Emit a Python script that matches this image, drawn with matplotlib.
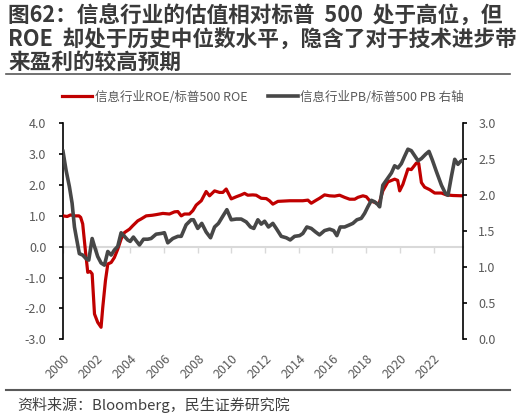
import matplotlib
matplotlib.use("Agg")
import matplotlib.pyplot as plt
from matplotlib.lines import Line2D

plt.rcParams['font.family'] = ['Noto Sans CJK SC', 'DejaVu Sans']
plt.rcParams['axes.unicode_minus'] = False

# ---- data (decimal years) ----
roe_dates = [2000.00, 2000.25, 2000.45, 2000.70, 2000.95, 2001.05, 2001.17, 2001.33, 2001.47, 2001.61,
             2001.73, 2001.87, 2002.06, 2002.26, 2002.36, 2002.52, 2002.66, 2002.86, 2003.05, 2003.25,
             2003.45, 2003.65, 2003.95, 2004.14, 2004.44, 2004.64, 2004.94, 2005.30, 2005.53, 2005.93,
             2006.32, 2006.62, 2006.82, 2007.02, 2007.21, 2007.51, 2007.71, 2007.91, 2008.21, 2008.50,
             2008.70, 2009.00, 2009.29, 2009.49, 2009.69, 2009.99, 2010.29, 2010.58, 2010.78, 2010.97,
             2011.27, 2011.47, 2011.77, 2012.07, 2012.26, 2012.46, 2012.76, 2013.46, 2014.24, 2014.54,
             2014.74, 2015.04, 2015.23, 2015.53, 2015.83, 2016.13, 2016.42, 2016.72, 2017.02, 2017.32,
             2017.51, 2017.81, 2018.01, 2018.21, 2018.50, 2018.76, 2018.99, 2019.29, 2019.69, 2019.87,
             2019.99, 2020.18, 2020.48, 2020.68, 2020.98, 2021.12, 2021.28, 2021.47, 2021.77, 2022.07,
             2022.47, 2022.76, 2023.16, 2023.75]
roe_values = [1.00, 0.98, 1.03, 1.00, 1.00, 0.95, 0.74, -0.13, -0.83, -0.80,
              -0.88, -2.18, -2.45, -2.61, -1.97, -1.10, -0.56, -0.51, -0.35, -0.08,
              0.25, 0.46, 0.57, 0.68, 0.84, 0.90, 1.00, 1.02, 1.04, 1.08,
              1.06, 1.13, 1.14, 1.00, 1.06, 1.06, 1.17, 1.35, 1.49, 1.79,
              1.65, 1.81, 1.76, 1.76, 1.87, 1.55, 1.62, 1.68, 1.73, 1.67,
              1.68, 1.67, 1.57, 1.56, 1.49, 1.38, 1.47, 1.49, 1.49, 1.51,
              1.41, 1.51, 1.57, 1.68, 1.65, 1.64, 1.67, 1.60, 1.54, 1.54,
              1.60, 1.65, 1.62, 1.49, 1.44, 1.38, 1.81, 2.10, 2.19, 2.15,
              1.81, 2.02, 2.52, 2.50, 2.71, 2.70, 2.08, 1.93, 1.85, 1.74,
              1.74, 1.68, 1.66, 1.65]

pb_dates = [2000.00, 2000.18, 2000.38, 2000.54, 2000.68, 2000.78, 2000.97, 2001.17, 2001.37, 2001.53,
            2001.73, 2001.87, 2002.06, 2002.26, 2002.46, 2002.66, 2002.86, 2003.05, 2003.25, 2003.45,
            2003.65, 2003.84, 2003.99, 2004.18, 2004.34, 2004.54, 2004.78, 2005.03, 2005.23, 2005.53,
            2005.83, 2006.02, 2006.22, 2006.52, 2006.82, 2007.02, 2007.31, 2007.61, 2007.75, 2008.00,
            2008.24, 2008.50, 2008.76, 2009.00, 2009.23, 2009.49, 2009.73, 2009.99, 2010.29, 2010.58,
            2010.88, 2011.13, 2011.33, 2011.57, 2011.77, 2011.97, 2012.20, 2012.46, 2012.66, 2012.96,
            2013.26, 2013.49, 2013.75, 2014.05, 2014.24, 2014.48, 2014.74, 2015.00, 2015.23, 2015.53,
            2015.83, 2016.07, 2016.26, 2016.46, 2016.72, 2017.02, 2017.21, 2017.45, 2017.71, 2017.91,
            2018.10, 2018.31, 2018.50, 2018.70, 2018.80, 2018.99, 2019.29, 2019.50, 2019.69, 2019.89,
            2020.09, 2020.28, 2020.48, 2020.68, 2020.88, 2021.08, 2021.28, 2021.53, 2021.73, 2021.93,
            2022.17, 2022.47, 2022.72, 2022.86, 2023.06, 2023.26, 2023.45, 2023.60, 2023.75]
pb_values = [2.61, 2.35, 2.12, 1.89, 1.56, 1.43, 1.19, 1.17, 1.12, 1.10,
             1.40, 1.29, 1.15, 1.06, 1.03, 1.22, 1.17, 1.24, 1.29, 1.48,
             1.43, 1.38, 1.36, 1.42, 1.37, 1.31, 1.39, 1.39, 1.40, 1.46,
             1.47, 1.48, 1.34, 1.40, 1.43, 1.43, 1.59, 1.66, 1.66, 1.54,
             1.61, 1.49, 1.41, 1.56, 1.61, 1.71, 1.80, 1.66, 1.67, 1.67,
             1.63, 1.56, 1.54, 1.66, 1.60, 1.64, 1.56, 1.61, 1.54, 1.43,
             1.41, 1.38, 1.43, 1.44, 1.47, 1.56, 1.54, 1.49, 1.45, 1.51,
             1.53, 1.51, 1.44, 1.56, 1.56, 1.59, 1.61, 1.66, 1.68, 1.75,
             1.84, 1.93, 1.91, 1.87, 1.84, 2.14, 2.24, 2.31, 2.41, 2.38,
             2.44, 2.54, 2.64, 2.62, 2.55, 2.48, 2.51, 2.57, 2.61, 2.49,
             2.33, 2.14, 2.02, 2.00, 2.26, 2.50, 2.43, 2.47, 2.49]

x_ticks = list(range(2000, 2023, 2))
x_labels = [str(y) for y in x_ticks]
left_ticks = [4.0, 3.0, 2.0, 1.0, 0.0, -1.0, -2.0, -3.0]
right_ticks = [3.0, 2.5, 2.0, 1.5, 1.0, 0.5, 0.0]

title_lines = ["图62：信息行业的估值相对标普  500  处于高位，但",
               "ROE  却处于历史中位数水平，隐含了对于技术进步带",
               "来盈利的较高预期"]
roe_label = "信息行业ROE/标普500 ROE"
pb_label = "信息行业PB/标普500 PB 右轴"
source_text = "资料来源：Bloomberg，民生证券研究院"

RED = "#C00000"
GRAY = "#474747"
TXT = "#595959"

W, H = 516, 419
fig = plt.figure(figsize=(W / 100, H / 100), dpi=100)

def fx(px):
    return px / W

def fy(py):
    return 1 - py / H

ax = fig.add_axes([fx(63), fy(339.3), fx(463) - fx(63), fy(123.3) - fy(339.3)])
ax2 = ax.twinx()

ax.plot(roe_dates, roe_values, color=RED, lw=2.3, solid_joinstyle='round', zorder=3)
ax2.plot(pb_dates, pb_values, color=GRAY, lw=2.6, solid_joinstyle='round', zorder=3)

ax.set_xlim(2000, 2023.75)
ax.set_ylim(-3, 4)
ax2.set_ylim(0, 3)
ax.set_yticks(left_ticks)
ax.set_yticklabels([f"{v:.1f}" for v in left_ticks])
ax2.set_yticks(right_ticks)
ax2.set_yticklabels([f"{v:.1f}" for v in right_ticks])

for s in ['top', 'right']:
    ax.spines[s].set_visible(False)
for s in ['top', 'left', 'bottom']:
    ax2.spines[s].set_visible(False)
ax.spines['left'].set_color('black')
ax.spines['left'].set_linewidth(1.2)
ax2.spines['right'].set_color('black')
ax2.spines['right'].set_linewidth(1.2)

ax.spines['bottom'].set_position(('data', 0))
ax.spines['bottom'].set_color('#D9D9D9')
ax.spines['bottom'].set_linewidth(1.5)
ax.spines['bottom'].set_zorder(1)
ax.set_xticks(x_ticks)
ax.tick_params(axis='x', direction='out', length=4, width=1, color='#D9D9D9', labelbottom=False)
ax.tick_params(axis='y', direction='out', length=3, width=1.2, color='black', pad=9,
               labelsize=9, labelcolor=TXT)
ax2.tick_params(axis='y', direction='out', length=3, width=1.2, color='black', pad=8,
                labelsize=9, labelcolor=TXT)

sec = ax.secondary_xaxis('bottom')
sec.set_xticks(x_ticks)
sec.set_xticklabels(x_labels, rotation=45, ha='right', va='top', rotation_mode='anchor')
sec.spines['bottom'].set_visible(False)
sec.tick_params(axis='x', length=0, pad=9, labelsize=9, labelcolor=TXT)

handles = [Line2D([], [], color=RED, lw=2.3), Line2D([], [], color=GRAY, lw=2.6)]
leg = fig.legend(handles, [roe_label, pb_label], loc='center', ncol=2,
                 bbox_to_anchor=(fx(263), fy(97)), frameon=False, fontsize=9,
                 handlelength=2.4, handletextpad=0.2, columnspacing=1.6,
                 labelcolor=TXT, borderaxespad=0, borderpad=0)

for i, t in enumerate(title_lines):
    fig.text(fx(8), fy(16 + 23 * i), t, fontsize=15.6, fontweight='bold', color='#3A3A3A',
             ha='left', va='center')

fig.add_artist(Line2D([fx(6), fx(510)], [fy(74.5), fy(74.5)], color='#595959', lw=1.2))
fig.add_artist(Line2D([fx(6), fx(510)], [fy(390), fy(390)], color='#595959', lw=1.5))
fig.text(fx(17), fy(405), source_text, fontsize=10.8, color='#404040', ha='left', va='center')

fig.savefig("out.png", dpi=100)
